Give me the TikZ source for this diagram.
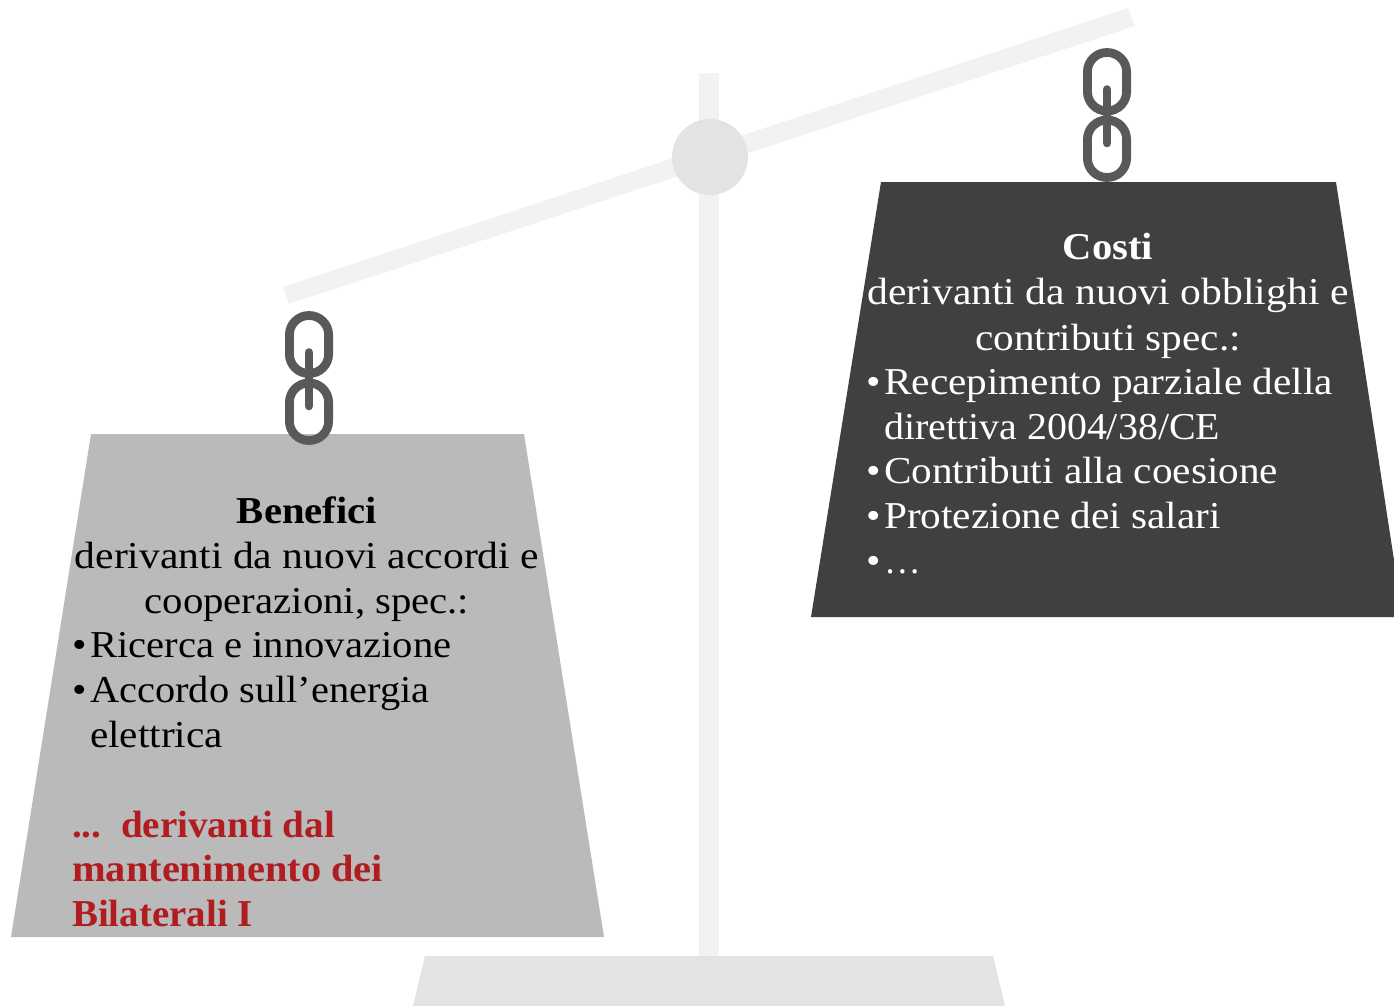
\documentclass[tikz,border=0pt]{standalone}
\usepackage{graphicx}
\usepackage{fontspec}
\setmainfont{Liberation Serif}
\newfontfamily\regf[FakeStretch=1.085]{Liberation Serif}
\newfontfamily\boldf[FakeStretch=1.07]{Liberation Serif Bold}
\definecolor{beamc}{HTML}{F2F2F2}
\definecolor{pivotc}{HTML}{E3E3E3}
\definecolor{chainc}{HTML}{595959}
\definecolor{lightw}{HTML}{BABABA}
\definecolor{darkw}{HTML}{404040}
\definecolor{redt}{HTML}{B01C20}
\tikzset{x=1pt,y=-1pt,
  txt/.style={font=\fontsize{38}{38}\selectfont\regf,inner sep=0pt,anchor=base west},
  ctr/.style={font=\fontsize{38}{38}\selectfont\regf,inner sep=0pt,anchor=base},
  boldt/.style={font=\fontsize{38}{38}\selectfont\boldf},
  linkp/.style={draw=chainc,line width=8.8pt,fill=none,rounded corners=19.4pt},
  barp/.style={draw=chainc,line width=8.6pt,line cap=round}}
\newcommand{\chainlink}[3]{%
  \draw[linkp] (#1-19.6,#2) rectangle (#1+19.6,#3);}
\newcommand{\sx}[2]{\scalebox{#1}[1]{#2}}
\begin{document}
\begin{tikzpicture}
\useasboundingbox (0,0) rectangle (1394,1006);
\fill[beamc] (699,73) rectangle (719,960);
\fill[beamc] (283,287) -- (1128,8) -- (1135,26) -- (289,304) -- cycle;
\fill[pivotc] (710,157) circle (38);
\fill[pivotc] (425,956) -- (993,956) -- (1005,1006) -- (413,1006) -- cycle;
% left weight
\fill[lightw] (91,434) -- (524,434) -- (604,937) -- (11,937) -- cycle;
\chainlink{309}{315.5}{373.5}
\chainlink{309}{383}{440.5}
\draw[barp] (309,352.5) -- (309,406);
% right weight
\fill[darkw] (881,182) -- (1336,182) -- (1394,560) -- (1394,617) -- (811,617) -- cycle;
\chainlink{1107}{52.5}{111}
\chainlink{1107}{120}{177.5}
\draw[barp] (1107,89.5) -- (1107,143);
% left text
\node[ctr,boldt] (b1) at (307,523) {Benefici};
\node[ctr] (b2) at (307,568) {\sx{1.009}{derivanti da nuovi accordi e}};
\node[ctr] (b3) at (307,613) {\sx{0.988}{cooperazioni, spec.:}};
\node[txt] (b4) at (72,657) {•};
\node[txt] (b5) at (90,657) {\sx{0.986}{Ricerca e innovazione}};
\node[txt] (b6) at (72,702) {•};
\node[txt] (b7) at (90,702) {\sx{0.98}{Accordo sull’energia}};
\node[txt] (b8) at (90,747) {elettrica};
\node[txt,boldt,text=redt] (b9) at (72,837) {\sx{0.962}{...\ \ derivanti dal}};
\node[txt,boldt,text=redt] (b10) at (72,881) {\sx{0.994}{mantenimento dei}};
\node[txt,boldt,text=redt] (b11) at (72,926) {\sx{0.957}{Bilaterali I}};
% right text
\node[ctr,boldt,text=white] (c1) at (1108,259) {Costi};
\node[ctr,text=white] (c2) at (1108,304) {\sx{1.01}{derivanti da nuovi obblighi e}};
\node[ctr,text=white] (c3) at (1108,350) {contributi spec.:};
\node[txt,text=white] (c4) at (866,394) {•};
\node[txt,text=white] (c5) at (884,394) {Recepimento parziale della};
\node[txt,text=white] (c6) at (884,439) {\sx{0.968}{direttiva 2004/38/CE}};
\node[txt,text=white] (c7) at (866,483) {•};
\node[txt,text=white] (c8) at (884,483) {Contributi alla coesione};
\node[txt,text=white] (c9) at (866,528) {•};
\node[txt,text=white] (c10) at (884,528) {Protezione dei salari};
\node[txt,text=white] (c11) at (866,573) {•};
\node[txt,text=white] (c12) at (884,573) {\sx{0.89}{…}};
\end{tikzpicture}
\end{document}
